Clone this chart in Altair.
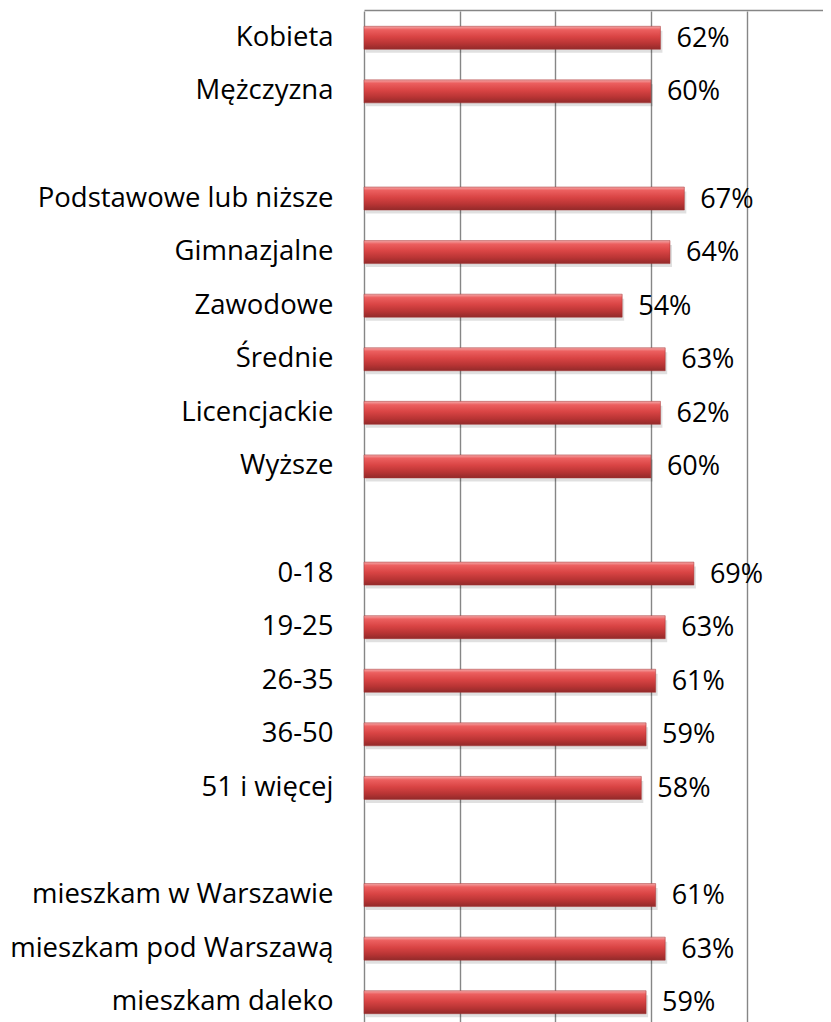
import altair as alt
import pandas as pd

categories = ["Kobieta", "Mężczyzna",
              "Podstawowe lub niższe", "Gimnazjalne", "Zawodowe", "Średnie", "Licencjackie", "Wyższe",
              "0-18", "19-25", "26-35", "36-50", "51 i więcej",
              "mieszkam w Warszawie", "mieszkam pod Warszawą", "mieszkam daleko"]
values = [62, 60, 67, 64, 54, 63, 62, 60, 69, 63, 61, 59, 58, 61, 63, 59]

row_order = ["Kobieta", "Mężczyzna", " ",
             "Podstawowe lub niższe", "Gimnazjalne", "Zawodowe", "Średnie", "Licencjackie", "Wyższe", "  ",
             "0-18", "19-25", "26-35", "36-50", "51 i więcej", "   ",
             "mieszkam w Warszawie", "mieszkam pod Warszawą", "mieszkam daleko"]
grid_values = [0, 20, 40, 60, 80]

df = pd.DataFrame({"cat": categories, "value": values})

FONT = "Open Sans"

y_enc = alt.Y("cat:N", sort=None,
              scale=alt.Scale(domain=row_order, range=[1, 1019], paddingInner=0, paddingOuter=0),
              axis=alt.Axis(title=None, labelFont=FONT, labelFontSize=27.5, labelColor="black",
                            labelPadding=31, ticks=False, tickSize=0, domain=False, grid=False,
                            minExtent=356, maxExtent=356, labelLimit=400))
x_enc = alt.X("value:Q",
              scale=alt.Scale(domain=[0, 96], nice=False, zero=True),
              axis=alt.Axis(title=None, orient="top", values=grid_values, labels=False, ticks=False,
                            domain=True, domainColor="#868686", domainWidth=1.4,
                            grid=True, gridColor="#868686", gridWidth=1.4, gridOpacity=1))

base = alt.Chart(df).encode(y=y_enc, x=x_enc)

shadow = base.mark_bar(size=22, color="#000000", opacity=0.12, yOffset=4, xOffset=2)

grad = alt.Gradient(
    gradient="linear", x1=0, x2=0, y1=0, y2=1,
    stops=[
        alt.GradientStop(color="#f4a8a8", offset=0.0),
        alt.GradientStop(color="#ec5f5f", offset=0.15),
        alt.GradientStop(color="#d94444", offset=0.45),
        alt.GradientStop(color="#b83434", offset=0.75),
        alt.GradientStop(color="#922a2a", offset=1.0),
    ],
)
bars = base.mark_bar(size=23, color=grad, stroke="#a33030", strokeWidth=0.5)

labels = base.transform_calculate(label="datum.value + '%'").mark_text(
    align="left", baseline="middle", dx=16, dy=1, fontSize=27, font=FONT, color="black"
).encode(text="label:N")

chart = (shadow + bars + labels).properties(
    width=459, height=998,
    padding={"left": 0, "top": 2, "right": 0, "bottom": 0},
).configure_view(stroke=None)

chart.save("out.html", embed_options={"renderer": "svg", "actions": False})
